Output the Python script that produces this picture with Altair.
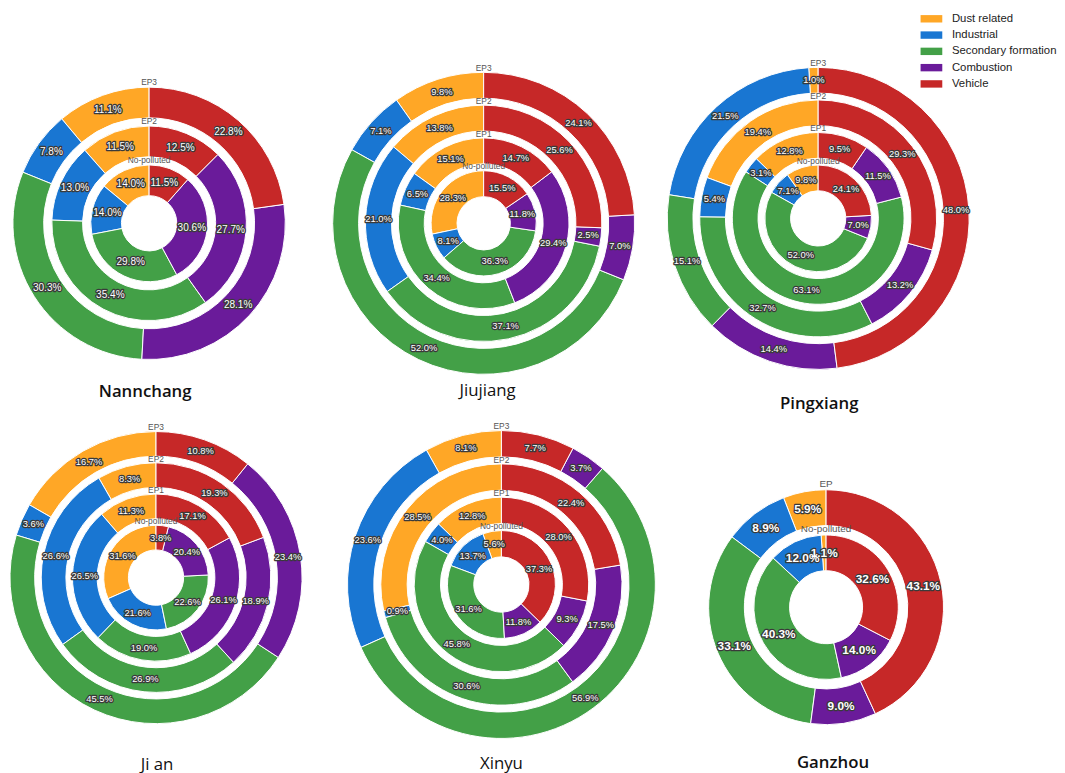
import math
import altair as alt
import pandas as pd

# ---------------- data ----------------
sources = ["Dust related", "Industrial", "Secondary formation", "Combustion", "Vehicle"]
colors = ["#FFA726", "#1976D2", "#43A047", "#6A1B9A", "#C62828"]

# each row: one ring, values in the order of `sources`
nanchang_rings = ["No-polluted", "EP2", "EP3"]
nanchang_vals = [
    [14.0, 14.0, 29.8, 30.6, 11.5],
    [11.5, 13.0, 35.4, 27.7, 12.5],
    [11.1, 7.8, 30.3, 28.1, 22.8],
]

jiujiang_rings = ["No-polluted", "EP1", "EP2", "EP3"]
jiujiang_vals = [
    [28.3, 8.1, 36.3, 11.8, 15.5],
    [15.1, 6.5, 34.4, 29.4, 14.7],
    [13.8, 21.0, 37.1, 2.5, 25.6],
    [9.8, 7.1, 52.0, 7.0, 24.1],
]

pingxiang_rings = ["No-polluted", "EP1", "EP2", "EP3"]
pingxiang_vals = [
    [9.8, 7.1, 52.0, 7.0, 24.1],
    [12.8, 3.1, 63.1, 11.5, 9.5],
    [19.4, 5.4, 32.7, 13.2, 29.3],
    [1.0, 21.5, 15.1, 14.4, 48.0],
]

jian_rings = ["No-polluted", "EP1", "EP2", "EP3"]
jian_vals = [
    [31.6, 21.6, 22.6, 20.4, 3.8],
    [11.3, 26.5, 19.0, 26.1, 17.1],
    [8.3, 26.6, 26.9, 18.9, 19.3],
    [16.7, 3.6, 45.5, 23.4, 10.8],
]

xinyu_rings = ["No-polluted", "EP1", "EP2", "EP3"]
xinyu_vals = [
    [5.6, 13.7, 31.6, 11.8, 37.3],
    [12.8, 4.0, 45.8, 9.3, 28.0],
    [28.5, 0.9, 30.6, 17.5, 22.4],
    [8.1, 23.6, 56.9, 3.7, 7.7],
]

ganzhou_rings = ["No-polluted", "EP"]
ganzhou_vals = [
    [1.1, 12.0, 40.3, 14.0, 32.6],
    [5.9, 8.9, 33.1, 9.0, 43.1],
]

# ---------------- builder ----------------
RING_FRAC = 0.79  # ring thickness as a fraction of ring pitch


def make_table(rings, vals):
    rows = []
    for ri, (ring, vs) in enumerate(zip(rings, vals)):
        for si, (src, v) in enumerate(zip(sources, vs)):
            # clockwise order from 12 o'clock: Vehicle, Combustion, Secondary, Industrial, Dust
            rows.append({"ring": ring, "ri": ri, "source": src,
                         "k": len(sources) - 1 - si, "value": v})
    return pd.DataFrame(rows)


def panel(name, rings, vals, hole, outer, w, h, t_offset, t_dx, t_weight,
          fs, fw, ring_fs):
    n = len(rings)
    df = make_table(rings, vals)
    theta_scale = alt.Scale(domain=[0, 1], range=[0, 2 * math.pi])
    r_scale = alt.Scale(type="linear", domain=[0, n - 1 + RING_FRAC],
                        range=[hole, outer], zero=False)

    base = alt.Chart(df).transform_joinaggregate(
        total="sum(value)", groupby=["ring"]
    ).transform_window(
        cum="sum(value)", groupby=["ring"],
        sort=[alt.SortField("k", order="ascending")], frame=[None, 0]
    ).transform_calculate(
        t0="(datum.cum - datum.value) / datum.total",
        t1="datum.cum / datum.total",
        tm="(datum.cum - datum.value / 2) / datum.total",
        r0="datum.ri",
        r1=f"datum.ri + {RING_FRAC}",
        rm=f"datum.ri + {RING_FRAC / 2}",
        label="format(datum.value, '.1f') + '%'",
    )

    arcs = base.mark_arc(stroke="white", strokeWidth=1).encode(
        theta=alt.Theta("t0:Q", scale=theta_scale, stack=False),
        theta2="t1:Q",
        radius=alt.Radius("r0:Q", scale=r_scale),
        radius2="r1:Q",
        color=alt.Color("source:N",
                        scale=alt.Scale(domain=sources, range=colors),
                        legend=alt.Legend(title=None)),
    )

    txt_enc = dict(
        theta=alt.Theta("tm:Q", scale=theta_scale, stack=False),
        radius=alt.Radius("rm:Q", scale=r_scale),
        text=alt.Text("label:N"),
    )
    halo = base.mark_text(font="Liberation Sans", fontSize=fs, fontWeight=fw,
                          fill="#3a3a3a", stroke="#3a3a3a", strokeWidth=2.6,
                          strokeJoin="round").encode(**txt_enc)
    txt = base.mark_text(font="Liberation Sans", fontSize=fs, fontWeight=fw,
                         fill="white").encode(**txt_enc)

    ring_df = pd.DataFrame({"ring": rings, "ri": list(range(n))})
    ring_lab = alt.Chart(ring_df).transform_calculate(
        rl=f"datum.ri + {RING_FRAC} + 0.13"
    ).mark_text(font="Liberation Sans", fontSize=ring_fs, fill="#555555").encode(
        theta=alt.value(0),
        radius=alt.Radius("rl:Q", scale=r_scale),
        text=alt.Text("ring:N"),
    )

    return alt.layer(arcs, halo, txt, ring_lab).properties(
        width=w, height=h,
        title=alt.TitleParams(name, orient="bottom", anchor="middle",
                              frame="group", baseline="top", offset=t_offset,
                              dx=t_dx, font="Open Sans", fontSize=17,
                              fontWeight=t_weight, color="#111111"),
    )


p_nan = panel("Nannchang", nanchang_rings, nanchang_vals, 28, 138, 282, 426, -50, -4, 600, 10.2, "normal", 8.5)
p_jiu = panel("Jiujiang", jiujiang_rings, jiujiang_vals, 27, 153, 300, 426, -51, 4, 400, 9.5, "normal", 8.5)
p_pin = panel("Pingxiang", pingxiang_rings, pingxiang_vals, 28, 153, 238, 416, -28, 1, 600, 9.5, "normal", 8.5)
p_jia = panel("Ji an", jian_rings, jian_vals, 28, 148, 296, 292, 32, 1, 400, 9.5, "normal", 8.5)
p_xin = panel("Xinyu", xinyu_rings, xinyu_vals, 28, 156, 336, 306, 16, 0, 400, 9.5, "normal", 8.5)
p_gan = panel("Ganzhou", ganzhou_rings, ganzhou_vals, 37, 119, 254, 352, -26, 7, 600, 12, "bold", 10)

chart = alt.concat(
    p_nan, p_jiu, p_pin, p_jia, p_xin, p_gan,
    columns=3, spacing={"row": 0, "column": 34}, bounds="flush",
    align={"row": "each", "column": "each"},
).properties(
    padding=0
).configure_view(
    strokeWidth=0
).configure_legend(
    orient="none", legendX=928, legendY=0,
    symbolType="M-2.2,-0.75L2.2,-0.75L2.2,0.75L-2.2,0.75Z", symbolSize=100,
    symbolStrokeWidth=0, labelFont="Liberation Sans", labelFontSize=11.5,
    labelColor="#222222", labelOffset=15, rowPadding=3.5, padding=0,
)

chart.save("out.html", embed_options={"renderer": "svg", "actions": False})
